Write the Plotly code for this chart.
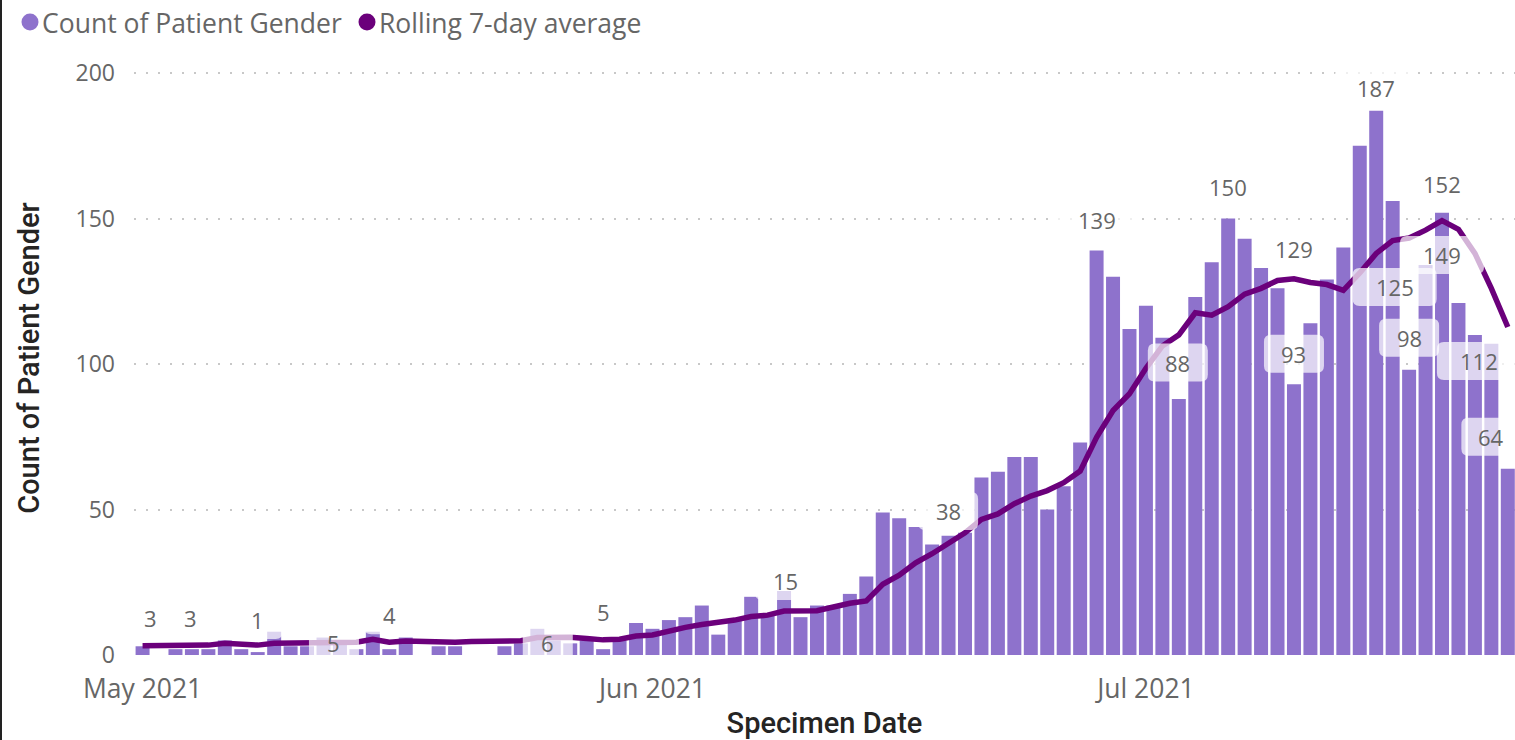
import plotly.graph_objects as go
import pandas as pd

# ---------------- data ----------------
dates = pd.date_range("2021-05-01", "2021-07-23", freq="D")

counts = [3, 0, 2, 2, 2, 5, 2, 1, 8, 3,
          3, 6, 5, 2, 8, 2, 6, 0, 3, 3,
          0, 0, 3, 4, 9, 5, 4, 5, 2, 5,
          11, 9, 12, 13, 17, 7, 12, 20, 14, 22,
          13, 17, 17, 21, 27, 49, 47, 44, 38, 41,
          42, 61, 63, 68, 68, 50, 58, 73, 139, 130,
          112, 120, 109, 88, 123, 135, 150, 143, 133, 126,
          93, 114, 129, 140, 175, 187, 156, 98, 134, 152,
          121, 110, 107, 64]

rolling_avg = [3.2, 3.3, 3.2, 3.2, 3.4, 4.0, 3.8, 3.4, 4.0, 4.1,
               4.4, 4.6, 4.6, 4.4, 5.4, 4.4, 4.8, 4.6, 4.4, 4.4,
               4.6, 4.8, 4.9, 4.9, 6.0, 6.1, 6.1, 5.7, 5.2, 5.4,
               6.5, 6.9, 8.4, 9.5, 10.5, 11.2, 12.0, 13.2, 13.7, 15.1,
               15.1, 15.2, 16.5, 17.8, 18.6, 24.3, 27.4, 31.7, 34.8, 38.6,
               42.0, 46.6, 48.5, 52.0, 54.6, 56.5, 59.2, 63.2, 74.8, 84.0,
               89.8, 98.5, 106.2, 110.0, 117.6, 116.8, 119.7, 124.0, 126.0, 128.7,
               129.3, 128.0, 127.3, 125.3, 131.3, 138.0, 142.4, 143.3, 146.0, 149.3,
               146.3, 138.0, 126.0, 112.7]

series_names = ["Count of Patient Gender", "Rolling 7-day average"]

# data labels shown on the chart
label_text = ["3", "3", "1", "5", "4", "6", "5", "15", "38", "139", "88",
              "150", "129", "93", "187", "125", "98", "152", "149", "112", "64"]
label_date = ["2021-05-01", "2021-05-04", "2021-05-08", "2021-05-13", "2021-05-16",
              "2021-05-26", "2021-05-29", "2021-06-09", "2021-06-18", "2021-06-28",
              "2021-07-03", "2021-07-06", "2021-07-10", "2021-07-10", "2021-07-15",
              "2021-07-16", "2021-07-17", "2021-07-19", "2021-07-19", "2021-07-21",
              "2021-07-22"]

# label placement (layout only)
label_ypos = [12.7, 12.7, 12.0, 4.1, 13.7, 4.1, 14.8, 25.4, 49.5, 149.5, 100.5,
              160.8, 139.5, 103.5, 194.7, 126.5, 109.0, 162.0, 137.5, 101.0, 75.0]
label_xshift = [8, -1, 0, -6, 0, -6, 0, 1, 16, 0, -1,
                0, 0, 0, 0, 2, 0, 0, 0, 4, 0]

BAR_COLOR = "#8E72CC"
LINE_COLOR = "#6B007B"
TXT = "#666666"
TITLE = "#252423"
FONT = "Open Sans"
TFONT = "Roboto"

W, H = 1515, 740
ML, MR, MT, MB = 134, 0, 61, 85
PW = W - ML - MR
PH = H - MT - MB


def px(x):
    return (x - ML) / PW


def py(y):
    return (H - MB - y) / PH


def rounded_rect(x0, y0, x1, y1, r):
    return (f"M{x0 + r},{y0} L{x1 - r},{y0} Q{x1},{y0} {x1},{y0 + r} "
            f"L{x1},{y1 - r} Q{x1},{y1} {x1 - r},{y1} L{x0 + r},{y1} "
            f"Q{x0},{y1} {x0},{y1 - r} L{x0},{y0 + r} Q{x0},{y0} {x0 + r},{y0} Z")


fig = go.Figure()

fig.add_trace(go.Bar(
    x=dates, y=counts, marker_color=BAR_COLOR, marker_line_width=0,
    width=0.85 * 86400000, showlegend=False, name=series_names[0]))

fig.add_trace(go.Scatter(
    x=dates, y=rolling_avg, mode="lines", showlegend=False,
    line=dict(color=LINE_COLOR, width=5.5, shape="linear"),
    name=series_names[1]))


def box_w(t):
    return {1: 50, 2: 60, 3: 84}[len(t)]


shapes = []
BOX_H = 38
for t, d, yv, dx in zip(label_text, label_date, label_ypos, label_xshift):
    w = box_w(t)
    shapes.append(dict(
        type="path", xref="x", yref="y", xsizemode="pixel", ysizemode="pixel",
        xanchor=d, yanchor=yv,
        path=rounded_rect(dx - w / 2, -BOX_H / 2, dx + w / 2, BOX_H / 2, 7),
        fillcolor="rgba(255,255,255,0.7)", line=dict(width=0), layer="above"))
    fig.add_annotation(
        x=d, y=yv, text=t, showarrow=False, xshift=dx,
        font=dict(family=FONT, size=22, color=TXT),
        xanchor="center", yanchor="middle")

# left border of the visual
shapes.append(dict(type="rect", xref="paper", yref="paper",
                   x0=px(0), x1=px(2), y0=py(H), y1=py(0),
                   fillcolor="#222222", line=dict(width=0), layer="above"))

# custom legend (circle markers + text)
legend_marker_x = [30, 367]
legend_text_x = [40, 377]
for name, col, mx, tx in zip(series_names, [BAR_COLOR, LINE_COLOR], legend_marker_x, legend_text_x):
    shapes.append(dict(type="circle", xref="paper", yref="paper",
                       x0=px(mx - 8.5), x1=px(mx + 8.5), y0=py(22 + 8.5), y1=py(22 - 8.5),
                       fillcolor=col, line=dict(width=0)))
    fig.add_annotation(xref="paper", yref="paper", x=px(tx), y=py(23), text=name,
                       showarrow=False, xanchor="left", yanchor="middle",
                       font=dict(family=FONT, size=26.5, color=TXT))

x0 = dates[0] - pd.Timedelta(hours=12.5)
x1 = dates[-1] + pd.Timedelta(hours=10.5)

fig.update_layout(
    width=W, height=H,
    margin=dict(l=ML, r=MR, t=MT, b=MB, autoexpand=False),
    paper_bgcolor="white", plot_bgcolor="white",
    showlegend=False,
    xaxis=dict(
        range=[x0, x1], type="date",
        tickvals=["2021-05-01", "2021-06-01", "2021-07-01"],
        ticktext=["May 2021", "Jun 2021", "Jul 2021"],
        tickfont=dict(family=FONT, size=26.5, color=TXT),
        showgrid=False, zeroline=False, showline=False, ticks="",
        ticklabelstandoff=15,
        title=dict(text="Specimen Date", standoff=13,
                   font=dict(family=TFONT, size=29, color=TITLE, weight=500)),
    ),
    yaxis=dict(
        range=[0, 200 + (73 - MT) / 2.91],
        tickvals=[0, 50, 100, 150, 200],
        tickfont=dict(family=FONT, size=23, color=TXT),
        showgrid=True, gridcolor="#C8C8C8", gridwidth=1.5, griddash="2px,10px",
        zeroline=False, showline=False, ticks="",
        ticklabelstandoff=18,
        title=dict(text="Count of Patient Gender", standoff=27,
                   font=dict(family=TFONT, size=29, color=TITLE, weight=500)),
    ),
    shapes=shapes,
)

fig.write_html("out.html", config={"displayModeBar": False},
               post_script="document.body.style.margin='0';document.body.style.overflow='hidden';")
